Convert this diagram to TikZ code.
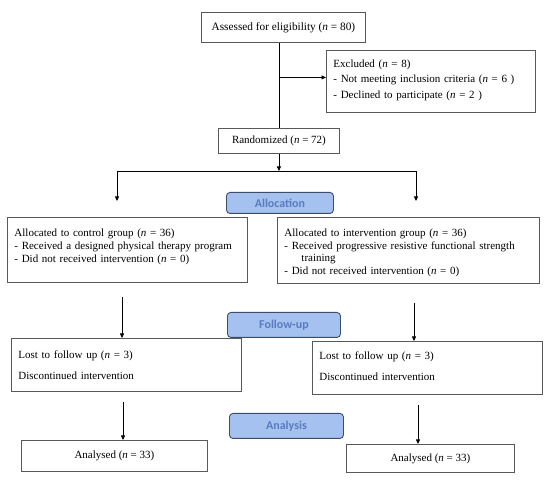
\documentclass[tikz,border=0pt]{standalone}
\usepackage{fontspec}
\setmainfont{Liberation Serif}
\newfontfamily\stagefont{Carlito}
\usetikzlibrary{arrows.meta}
\definecolor{stagefill}{RGB}{165,193,240}
\definecolor{stageline}{RGB}{62,76,108}
\definecolor{stagetext}{RGB}{88,124,190}
\newcommand{\padbox}[1]{\par\nointerlineskip\vbox to #1{}}
\newcommand{\nn}{\textit{n}}
\tikzset{
  box/.style={draw=black!65, line width=0.9pt, inner sep=0pt, font=\fontsize{11}{13}\selectfont},
  listbox/.style={box, anchor=north west, align=left, inner xsep=7pt, inner ysep=0pt},
  stagebox/.style={draw=stageline, fill=stagefill, rounded corners=3.5pt, line width=0.9pt,
    inner sep=0pt, font=\stagefont\bfseries\fontsize{12}{13}\selectfont, text=stagetext},
  arr/.style={-{Triangle[length=4.5pt,width=4pt]}, line width=0.7pt},
  link/.style={line width=0.7pt},
}
\begin{document}
\begin{tikzpicture}[x=1pt,y=-1pt]
\useasboundingbox (0,0) rectangle (550,484);
% Enrolment
\node[box, minimum width=164, minimum height=30, anchor=north west, font=\fontsize{11.3}{13}\selectfont] (assess) at (201,12) {Assessed for eligibility (\nn{} = 80)};
\node[listbox, text width=195, minimum height=62] (excl) at (326,50)
  {\vbox to 16.5pt{}\fontsize{11}{15.5}\selectfont Excluded (\nn{} = 8)\\- Not meeting inclusion criteria (\nn{} = 6 )\\- Declined to participate (\nn{} = 2 )\padbox{12pt}};
\node[box, minimum width=121, minimum height=25, anchor=north west] (rand) at (218,128) {Randomized (\nn{} = 72)};
\coordinate (exclfork) at (rand.north |- excl.west);
\draw[link] (assess.south -| rand.north) -- (rand.north);
\draw[arr] ([yshift=4pt]exclfork) -- ([yshift=4pt]excl.west);
% Allocation
\coordinate (splitL) at (117,171);
\coordinate (splitR) at (416,171);
\coordinate (allocL) at (117,201);
\coordinate (allocR) at (416,201);
\draw[arr] (rand.south) -- (rand.south |- splitL);
\draw[link] (splitL) -- (splitR);
\draw[arr] (splitL) -- (allocL);
\draw[arr] (splitR) -- (allocR);
\node[stagebox, minimum width=107, minimum height=21, anchor=north west] (alloc) at (226,192) {Allocation};
\node[listbox, text width=226, minimum height=65] (ctrl) at (7,217)
  {\vbox to 19pt{}\fontsize{11}{12.8}\selectfont Allocated to control group (\nn{} = 36)\\- Received a designed physical therapy program\\- Did not received intervention (\nn{} = 0)\padbox{18pt}};
\node[listbox, text width=248, minimum height=66] (intv) at (277,217)
  {\vbox to 18.5pt{}\fontsize{11}{12.9}\selectfont Allocated to intervention group (\nn{} = 36)\\- Received progressive resistive functional strength\\\hspace*{17pt}training\\- Did not received intervention (\nn{} = 0)\padbox{6pt}};
% Follow-up
\node[stagebox, minimum width=113, minimum height=25, anchor=north west] (follow) at (227,312) {Follow-up};
\node[listbox, text width=216, minimum height=53] (lostL) at (11,338)
  {\vbox to 18.5pt{}\fontsize{11}{21.7}\selectfont Lost to follow up (\nn{} = 3)\\Discontinued intervention\padbox{10pt}};
\node[listbox, text width=216, minimum height=53] (lostR) at (312,341)
  {\vbox to 16.5pt{}\fontsize{11}{21.7}\selectfont Lost to follow up (\nn{} = 3)\\Discontinued intervention\padbox{12pt}};
\coordinate (ctrlout) at (122,297);
\coordinate (intvout) at (414,303);
\draw[arr] (ctrlout) -- (ctrlout |- lostL.north);
\draw[arr] (intvout) -- (intvout |- lostR.north);
% Analysis
\node[stagebox, minimum width=114, minimum height=25, anchor=north west] (anal) at (229,413) {Analysis};
\node[box, minimum width=186, minimum height=31, anchor=north west] (doneL) at (21,440) {Analysed (\nn{} = 33)};
\node[box, minimum width=168, minimum height=28, anchor=north west] (doneR) at (346,444) {Analysed (\nn{} = 33)};
\coordinate (lostLout) at (123,402);
\coordinate (lostRout) at (418,405);
\draw[arr] (lostLout) -- (lostLout |- doneL.north);
\draw[arr] (lostRout) -- (lostRout |- doneR.north);
\end{tikzpicture}
\end{document}
